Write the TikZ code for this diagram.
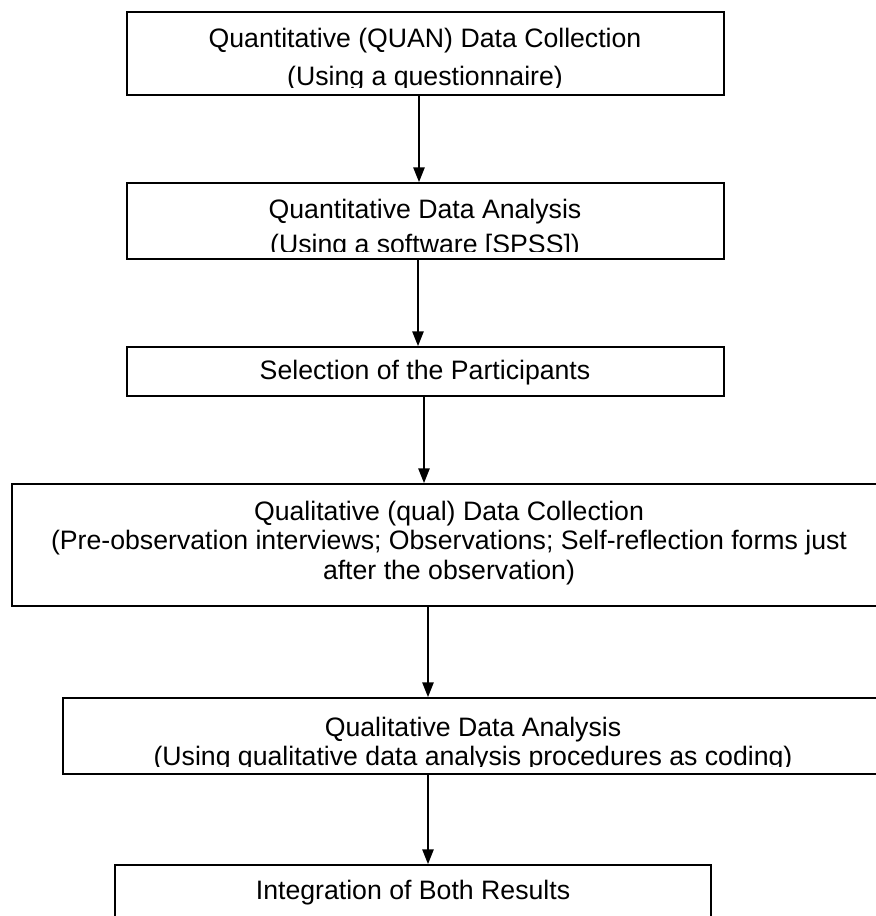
\documentclass[tikz,border=0pt]{standalone}
\usepackage{fontspec}
\setmainfont{Liberation Sans}
\usetikzlibrary{arrows.meta,fit}
\begin{document}
\begin{tikzpicture}[x=0.75pt,y=-0.75pt,
  stagebox/.style={draw=black, line width=1.4pt, inner sep=0pt, fit={#1}},
  stagetext/.style={align=center, inner sep=0pt, font=\fontsize{20}{#1}\selectfont},
  flow/.style={draw=black, line width=1.1pt, -{Triangle[length=11pt,width=8.5pt]}}]
\useasboundingbox (0,0) rectangle (875,916);

% stage frames
\node[stagebox={(127,12) (724,95)}] (b1) {};
\node[stagebox={(127,183) (724,259)}] (b2) {};
\node[stagebox={(127,347) (724,396)}] (b3) {};
\node[stagebox={(12,484) (890,606)}] (b4) {};
\node[stagebox={(63,698) (890,774)}] (b5) {};
\node[stagebox={(115,865) (711,935)}] (b6) {};

% stage texts (the lower text edge is cut off inside some frames)
\begin{scope}
  \clip (b1.north west) rectangle ([yshift=6pt]b1.south east);
  \node[stagetext=28.5pt] (t1) at (425,60) {Quantitative (QUAN) Data Collection\\(Using a questionnaire)};
\end{scope}
\begin{scope}
  \clip (b2.north west) rectangle ([yshift=6pt]b2.south east);
  \node[stagetext=26.5pt] (t2) at (425,229) {Quantitative Data Analysis\\(Using a software [SPSS])};
\end{scope}
\node[stagetext=23pt] (t3) at (425,373) {Selection of the Participants};
\node[stagetext=22pt] (t4) at (449,543) {Qualitative (qual) Data Collection\\(Pre-observation interviews; Observations; Self-reflection forms just\\after the observation)};
\begin{scope}
  \clip (b5.north west) rectangle ([yshift=6pt]b5.south east);
  \node[stagetext=22pt] (t5) at (473,744) {Qualitative Data Analysis\\(Using qualitative data analysis procedures as coding)};
\end{scope}
\node[stagetext=23pt] (t6) at (413,893) {Integration of Both Results};

% connector columns
\coordinate (c1) at (419,0);
\coordinate (c2) at (418,0);
\coordinate (c3) at (424,0);
\coordinate (c4) at (428,0);
\coordinate (c5) at (428,0);

\draw[flow] (b1.south -| c1) -- (b2.north -| c1);
\draw[flow] (b2.south -| c2) -- (b3.north -| c2);
\draw[flow] (b3.south -| c3) -- (b4.north -| c3);
\draw[flow] (b4.south -| c4) -- (b5.north -| c4);
\draw[flow] (b5.south -| c5) -- (b6.north -| c5);
\end{tikzpicture}
\end{document}
